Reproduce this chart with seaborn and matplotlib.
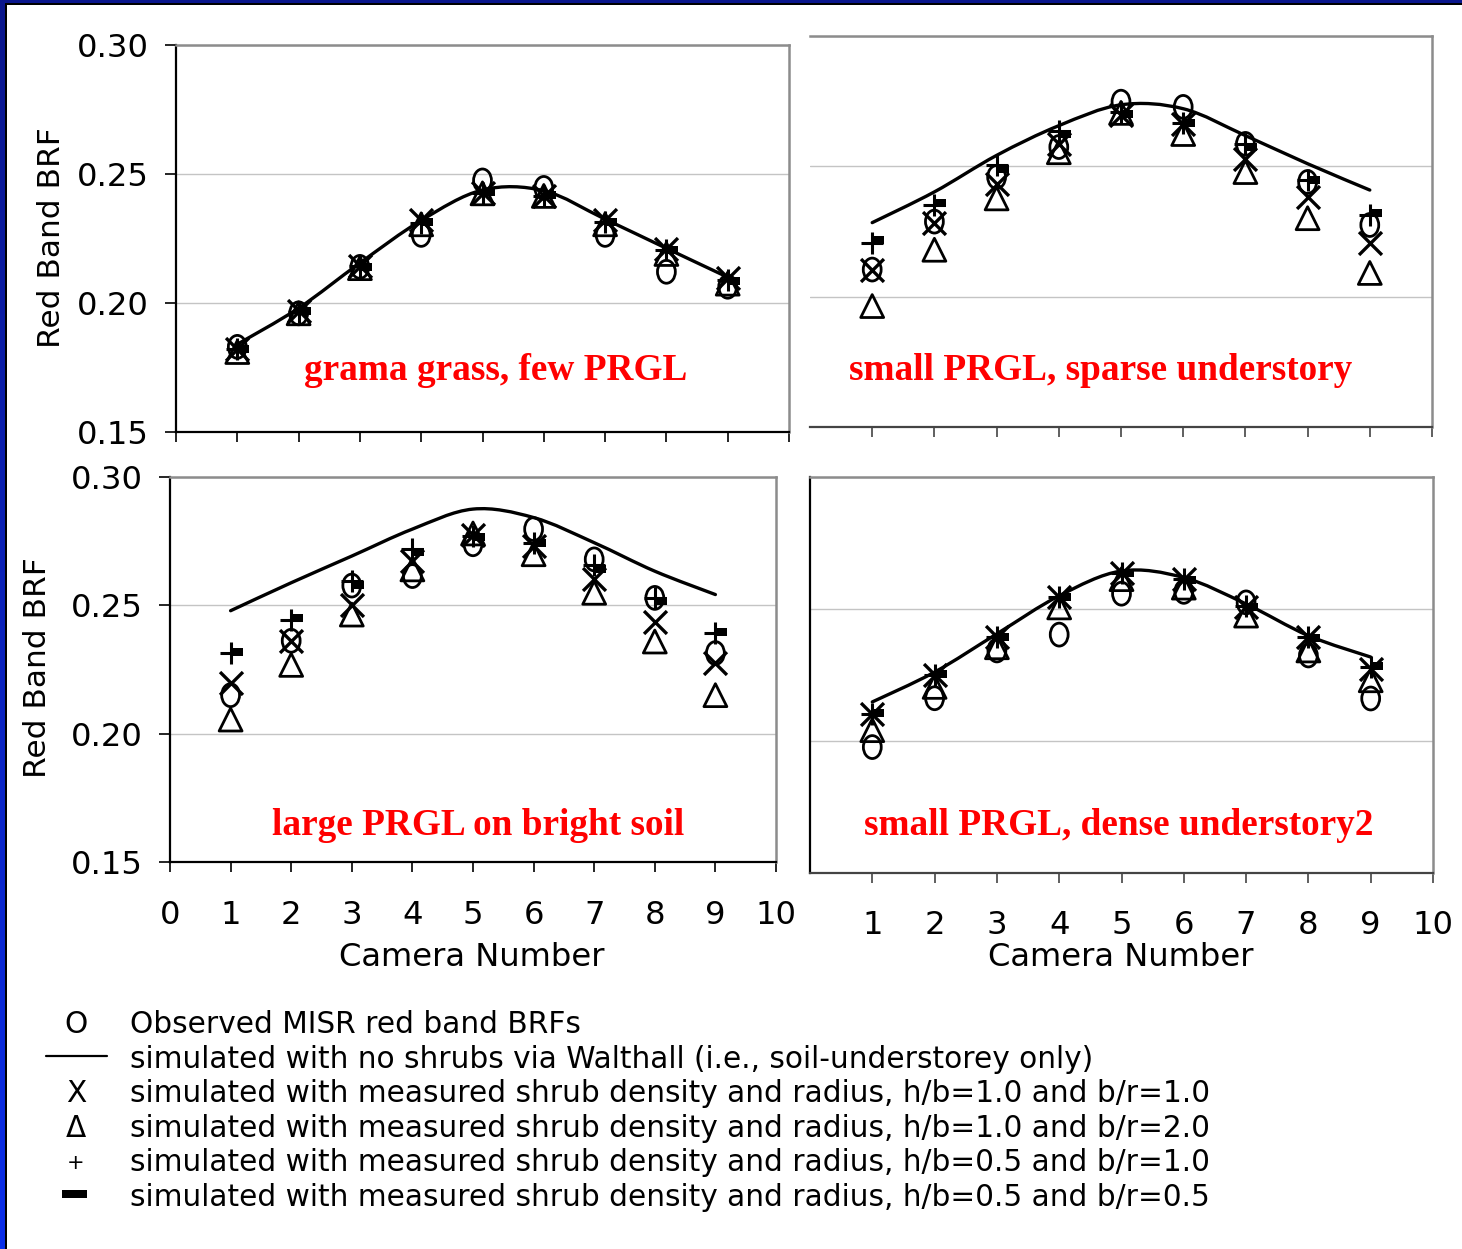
import numpy as np
import pandas as pd
import matplotlib
matplotlib.use("Agg")
import matplotlib.pyplot as plt
import seaborn as sns
from matplotlib.path import Path
from matplotlib.patches import PathPatch, Rectangle
from matplotlib.lines import Line2D
from matplotlib.colors import LinearSegmentedColormap

# ---------------- data ----------------
camera = [1, 2, 3, 4, 5, 6, 7, 8, 9]

# grama grass, few PRGL
tl_obs = [0.1830, 0.1960, 0.2140, 0.2264, 0.2475, 0.2446, 0.2264, 0.2121, 0.2063]
tl_walthall = [0.1840, 0.1980, 0.2155, 0.2320, 0.2438, 0.2435, 0.2325, 0.2212, 0.2100]
tl_hb10_br10 = [0.1820, 0.1970, 0.2145, 0.2322, 0.2426, 0.2415, 0.2320, 0.2210, 0.2097]
tl_hb10_br20 = [0.1810, 0.1960, 0.2135, 0.2305, 0.2425, 0.2415, 0.2305, 0.2190, 0.2075]
tl_hb05_br10 = [0.1820, 0.1965, 0.2145, 0.2310, 0.2425, 0.2415, 0.2315, 0.2205, 0.2090]
tl_hb05_br05 = [0.1820, 0.1970, 0.2140, 0.2315, 0.2430, 0.2420, 0.2315, 0.2205, 0.2085]

# small PRGL, sparse understory
tr_obs = [0.2104, 0.2288, 0.2459, 0.2574, 0.2748, 0.2728, 0.2586, 0.2440, 0.2275]
tr_walthall = [0.2284, 0.2402, 0.2542, 0.2656, 0.2736, 0.2721, 0.2618, 0.2510, 0.2409]
tr_hb10_br10 = [0.2104, 0.2282, 0.2434, 0.2586, 0.2698, 0.2663, 0.2529, 0.2383, 0.2206]
tr_hb10_br20 = [0.1964, 0.2180, 0.2377, 0.2554, 0.2705, 0.2624, 0.2478, 0.2301, 0.2091]
tr_hb05_br10 = [0.2206, 0.2351, 0.2504, 0.2637, 0.2710, 0.2665, 0.2586, 0.2447, 0.2313]
tr_hb05_br05 = [0.2216, 0.2358, 0.2491, 0.2624, 0.2700, 0.2665, 0.2574, 0.2447, 0.2322]

# large PRGL on bright soil
bl_obs = [0.2150, 0.2362, 0.2577, 0.2614, 0.2738, 0.2797, 0.2679, 0.2529, 0.2314]
bl_walthall = [0.2479, 0.2588, 0.2692, 0.2797, 0.2875, 0.2842, 0.2744, 0.2633, 0.2542]
bl_hb10_br10 = [0.2196, 0.2362, 0.2503, 0.2672, 0.2775, 0.2730, 0.2601, 0.2437, 0.2275]
bl_hb10_br20 = [0.2055, 0.2268, 0.2464, 0.2640, 0.2780, 0.2699, 0.2549, 0.2359, 0.2150]
bl_hb05_br10 = [0.2314, 0.2444, 0.2594, 0.2718, 0.2770, 0.2744, 0.2659, 0.2529, 0.2392]
bl_hb05_br05 = [0.2320, 0.2451, 0.2580, 0.2708, 0.2765, 0.2744, 0.2640, 0.2516, 0.2396]

# small PRGL, dense understory2
br_obs = [0.1977, 0.2162, 0.2343, 0.2403, 0.2558, 0.2565, 0.2525, 0.2324, 0.2161]
br_walthall = [0.2148, 0.2261, 0.2406, 0.2550, 0.2644, 0.2619, 0.2519, 0.2399, 0.2318]
br_hb10_br10 = [0.2104, 0.2249, 0.2393, 0.2544, 0.2638, 0.2613, 0.2506, 0.2393, 0.2274]
br_hb10_br20 = [0.2041, 0.2205, 0.2355, 0.2506, 0.2613, 0.2581, 0.2475, 0.2343, 0.2230]
br_hb05_br10 = [0.2104, 0.2249, 0.2393, 0.2544, 0.2635, 0.2613, 0.2510, 0.2393, 0.2280]
br_hb05_br05 = [0.2107, 0.2252, 0.2393, 0.2544, 0.2635, 0.2610, 0.2506, 0.2390, 0.2283]

panel_titles = ["grama grass, few PRGL", "small PRGL, sparse understory",
                "large PRGL on bright soil", "small PRGL, dense understory2"]
y_ticks = [0.15, 0.20, 0.25, 0.30]
y_ticklabels = ["0.15", "0.20", "0.25", "0.30"]
ylabel = "Red Band BRF"
xlabel = "Camera Number"
legend_symbols = ["O", None, "X", "\u0394", "+", None]
legend_texts = [
    "Observed MISR red band BRFs",
    "simulated with no shrubs via Walthall (i.e., soil-understorey only)",
    "simulated with measured shrub density and radius, h/b=1.0 and b/r=1.0",
    "simulated with measured shrub density and radius, h/b=1.0 and b/r=2.0",
    "simulated with measured shrub density and radius, h/b=0.5 and b/r=1.0",
    "simulated with measured shrub density and radius, h/b=0.5 and b/r=0.5",
]

# ---------------- style ----------------
sns.set_style("white")
plt.rcParams["font.family"] = ["DejaVu Sans"]
plt.rcParams["text.color"] = "black"
plt.rcParams["axes.labelcolor"] = "black"
plt.rcParams["xtick.color"] = "black"
plt.rcParams["ytick.color"] = "black"

W, H = 1462, 1249
fig = plt.figure(figsize=(W / 100, H / 100), dpi=100)
fig.patch.set_facecolor("white")


def rect(l, t, r, b):
    return [l / W, 1 - b / H, (r - l) / W, (b - t) / H]


def fx(x):
    return x / W


def fy(y):
    return 1 - y / H


circ = Path.unit_circle()
ellipse_marker = Path(circ.vertices * np.array([0.78, 1.0]), circ.codes)
bar_marker = Path([(0, -0.36), (1, -0.36), (1, 0.36), (0, 0.36), (0, -0.36)],
                  [Path.MOVETO, Path.LINETO, Path.LINETO, Path.LINETO, Path.CLOSEPOLY])


def smooth_path(xs, ys):
    pts = np.column_stack([xs, ys]).astype(float)
    n = len(pts)
    verts = [pts[0]]
    codes = [Path.MOVETO]
    for i in range(n - 1):
        p0 = pts[i - 1] if i > 0 else pts[i]
        p1 = pts[i]
        p2 = pts[i + 1]
        p3 = pts[i + 2] if i + 2 < n else pts[i + 1]
        verts += [p1 + (p2 - p0) / 6.0, p2 - (p3 - p1) / 6.0, p2]
        codes += [Path.CURVE4] * 3
    return Path(verts, codes)


panels = [
    dict(rect=rect(176, 45, 789, 432), data=(tl_obs, tl_walthall, tl_hb10_br10, tl_hb10_br20, tl_hb05_br10, tl_hb05_br05),
         ylab=True, xlab=False, left=True, xt0=True, bottom_col="black", title_xy=(496, 380)),
    dict(rect=rect(810, 36, 1432, 427), data=(tr_obs, tr_walthall, tr_hb10_br10, tr_hb10_br20, tr_hb05_br10, tr_hb05_br05),
         ylab=False, xlab=False, left=False, xt0=False, bottom_col="#444444", title_xy=(1101, 380)),
    dict(rect=rect(170, 477, 776, 862), data=(bl_obs, bl_walthall, bl_hb10_br10, bl_hb10_br20, bl_hb05_br10, bl_hb05_br05),
         ylab=True, xlab=True, left=True, xt0=True, bottom_col="black", title_xy=(478, 835)),
    dict(rect=rect(810, 477, 1433, 873), data=(br_obs, br_walthall, br_hb10_br10, br_hb10_br20, br_hb05_br10, br_hb05_br05),
         ylab=False, xlab=True, left=True, xt0=False, bottom_col="#444444", title_xy=(1119, 835)),
]

TICKFS = 23.2
MS = 16.5
for k, p in enumerate(panels):
    ax = fig.add_axes(p["rect"])
    obs, walt, x11, t12, p051, b055 = p["data"]
    df = pd.DataFrame({"camera": camera, "obs": obs, "walt": walt, "x11": x11,
                       "t12": t12, "p051": p051, "b055": b055})

    # smoothed Walthall curve
    ax.add_patch(PathPatch(smooth_path(df["camera"], df["walt"]), fill=False,
                           edgecolor="black", lw=2.4, zorder=3, capstyle="round"))

    sns.scatterplot(data=df, x="camera", y="t12", marker="^", s=MS ** 2, color="black",
                    facecolor="none", edgecolor="black", linewidth=2.0, ax=ax, zorder=4, legend=False)
    sns.scatterplot(data=df, x="camera", y="obs", marker=ellipse_marker, s=MS ** 2, color="black",
                    facecolor="none", edgecolor="black", linewidth=2.0, ax=ax, zorder=4, legend=False)
    sns.scatterplot(data=df, x="camera", y="x11", marker="x", s=MS ** 2, color="black",
                    linewidth=2.4, ax=ax, zorder=5, legend=False)
    sns.scatterplot(data=df, x="camera", y="p051", marker="+", s=MS ** 2, color="black",
                    linewidth=2.2, ax=ax, zorder=5, legend=False)
    sns.scatterplot(data=df, x="camera", y="b055", marker=bar_marker, s=17 ** 2, color="black",
                    edgecolor="black", linewidth=0, ax=ax, zorder=5, legend=False)

    ax.set_xlim(0, 10)
    ax.set_ylim(0.15, 0.30)
    ax.set_xlabel("")
    ax.set_ylabel("")
    ax.set_yticks(y_ticks)
    ax.grid(axis="y", color="#c4c4c4", lw=1.0)
    ax.grid(axis="x", visible=False)
    ax.set_axisbelow(True)

    for side in ("top", "right"):
        ax.spines[side].set_color("#8c8c8c")
        ax.spines[side].set_linewidth(1.8)
    ax.spines["bottom"].set_color(p["bottom_col"])
    ax.spines["bottom"].set_linewidth(1.6)
    ax.spines["left"].set_color("black")
    ax.spines["left"].set_linewidth(1.6)
    ax.spines["left"].set_visible(p["left"])

    xt = list(range(0, 11)) if p["xt0"] else list(range(1, 11))
    ax.set_xticks(xt)
    if p["xlab"]:
        ax.set_xticklabels([str(v) for v in xt])
    else:
        ax.set_xticklabels([])
    ax.tick_params(axis="x", bottom=True, direction="out", length=7.5, width=1.2,
                   color=p["bottom_col"], labelsize=TICKFS, pad=19.5, labelcolor="black")
    if p["ylab"]:
        ax.set_yticklabels(y_ticklabels)
        ax.tick_params(axis="y", left=True, direction="out", length=7.8, width=1.2,
                       color="black", labelsize=TICKFS, pad=11.5, labelcolor="black")
    else:
        ax.set_yticklabels([])
        ax.tick_params(axis="y", left=False, length=0)

    tx, ty = p["title_xy"]
    fig.text(fx(tx), fy(ty), panel_titles[k], ha="center", va="baseline",
             family="Liberation Serif", weight="bold", color="#ff0000", size=26.8)

# axis labels
fig.text(fx(52), fy(238), ylabel, rotation=90, ha="center", va="center", size=22.5, color="black")
fig.text(fx(38), fy(668), ylabel, rotation=90, ha="center", va="center", size=22.5, color="black")
fig.text(fx(472), fy(957), xlabel, ha="center", va="center", size=TICKFS, color="black")
fig.text(fx(1121), fy(957), xlabel, ha="center", va="center", size=TICKFS, color="black")

# legend block
LFS = 21.3
base0 = 1033
step = 34.6
for i, txt in enumerate(legend_texts):
    yb = base0 + i * step
    fig.text(fx(130), fy(yb), txt, ha="left", va="baseline", size=LFS, color="black")
    sym = legend_symbols[i]
    if sym == "+":
        fig.text(fx(76), fy(yb - 2), sym, ha="center", va="baseline", size=15, color="black")
    elif sym is not None:
        fig.text(fx(76), fy(yb), sym, ha="center", va="baseline", size=LFS, color="black")
# line symbol
fig.add_artist(Line2D([fx(46), fx(107)], [fy(1056), fy(1056)], color="black", lw=1.6,
                      transform=fig.transFigure))
# bar symbol
fig.add_artist(Rectangle((fx(62), fy(1198)), (87 - 62) / W, 8 / H, transform=fig.transFigure,
                         facecolor="black", edgecolor="none"))

# blue frame (top and left)
fig.add_artist(Rectangle((0, fy(3)), 1, 3 / H, transform=fig.transFigure,
                         facecolor="#0a168c", edgecolor="none", zorder=10))
fig.add_artist(Rectangle((fx(5), fy(5)), 1, 2 / H, transform=fig.transFigure,
                         facecolor="black", edgecolor="none", zorder=10))
lax = fig.add_axes([0, 0, 5 / W, 1 - 3 / H])
cmap = LinearSegmentedColormap.from_list("edge", ["#0a168c", "#0a2ee8"])
lax.imshow(np.linspace(0, 1, 256)[:, None], aspect="auto", cmap=cmap)
lax.axis("off")
fig.add_artist(Rectangle((fx(5), 0), 2 / W, 1 - 5 / H, transform=fig.transFigure,
                         facecolor="black", edgecolor="none", zorder=10))

fig.savefig("out.png", dpi=100, facecolor="white")
